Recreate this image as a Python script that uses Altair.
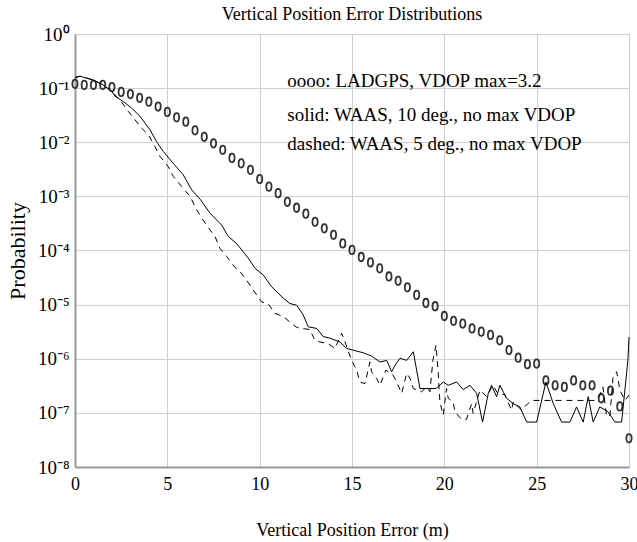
import altair as alt
import pandas as pd

FONT = "Liberation Serif"

# LADGPS (circles), x in metres, log10 of probability
ladgps_x = [0.0, 0.5, 1.0, 1.5, 2.0, 2.5, 3.0, 3.5, 4.0, 4.5,
            5.0, 5.5, 6.0, 6.5, 7.0, 7.5, 8.0, 8.5, 9.0, 9.5,
            10.0, 10.5, 11.0, 11.5, 12.0, 12.5, 13.0, 13.5, 14.0, 14.5,
            15.0, 15.5, 16.0, 16.5, 17.0, 17.5, 18.0, 18.5, 19.0, 19.5,
            20.0, 20.5, 21.0, 21.5, 22.0, 22.5, 23.0, 23.5, 24.0, 24.5,
            25.0, 25.5, 26.0, 26.5, 27.0, 27.5, 28.0, 28.5, 29.0, 29.5, 30.0]
ladgps_log10 = [-0.92, -0.94, -0.94, -0.94, -0.98, -1.07, -1.11, -1.18, -1.25, -1.34,
                -1.44, -1.54, -1.62, -1.78, -1.90, -2.02, -2.14, -2.29, -2.39, -2.51,
                -2.68, -2.82, -2.94, -3.10, -3.21, -3.32, -3.47, -3.59, -3.71, -3.87,
                -3.99, -4.12, -4.22, -4.33, -4.48, -4.56, -4.68, -4.82, -4.97, -5.03,
                -5.21, -5.30, -5.35, -5.44, -5.50, -5.56, -5.66, -5.84, -5.98, -6.10,
                -6.09, -6.40, -6.49, -6.52, -6.40, -6.49, -6.49, -6.73, -6.59, -6.88, -7.47]

# WAAS, 10 deg (solid)
waas10_x = [0.0, 0.27, 0.99, 1.52, 1.99, 2.17, 2.62, 3.07, 3.52, 4.06,
            4.42, 4.78, 5.32, 5.86, 6.32, 6.77, 7.31, 7.94, 8.30, 8.75,
            9.38, 9.75, 10.19, 10.65, 11.28, 11.64, 12.00, 12.36, 12.63, 13.09,
            13.44, 13.81, 14.35, 14.71, 15.16, 15.61, 16.06, 16.51, 16.88, 17.15,
            17.33, 17.60, 17.96, 18.32, 18.68, 19.13, 19.55, 19.94, 20.21, 20.67,
            21.02, 21.39, 21.75, 22.07, 22.38, 22.56, 22.83, 23.01, 23.37, 23.73,
            24.09, 24.46, 25.00, 25.50, 25.90, 26.35, 26.80, 27.16, 27.52, 27.79,
            28.06, 28.42, 28.87, 29.24, 29.60, 29.94, 30.00]
waas10_log10 = [-0.81, -0.78, -0.85, -0.94, -1.06, -1.15, -1.25, -1.37, -1.52, -1.77,
                -1.99, -2.17, -2.39, -2.60, -2.88, -3.05, -3.31, -3.53, -3.74, -3.87,
                -4.14, -4.33, -4.45, -4.67, -4.88, -4.98, -5.01, -5.19, -5.41, -5.44,
                -5.59, -5.62, -5.69, -5.81, -5.85, -5.89, -5.95, -6.06, -6.03, -6.24,
                -6.12, -5.99, -6.03, -5.87, -6.55, -6.55, -6.55, -6.43, -6.49, -6.43,
                -6.57, -6.49, -6.64, -7.17, -6.64, -6.49, -6.70, -6.49, -6.73, -6.83,
                -6.89, -7.17, -7.17, -6.43, -6.83, -7.17, -7.17, -6.89, -7.17, -6.70,
                -7.17, -6.89, -6.98, -7.17, -7.17, -6.03, -5.60]

# WAAS, 5 deg (dashed)
waas5_x = [0.0, 0.27, 0.99, 1.52, 1.99, 2.44, 2.89, 3.61, 3.97, 4.33,
           4.60, 5.05, 5.32, 5.78, 6.23, 6.59, 6.86, 7.31, 7.58, 7.85,
           8.21, 8.66, 8.93, 9.30, 9.65, 10.11, 10.47, 10.83, 11.28, 11.73,
           12.00, 12.27, 12.72, 12.99, 13.26, 13.71, 14.08, 14.44, 14.62, 14.98,
           15.25, 15.43, 15.70, 15.97, 16.06, 16.33, 16.51, 16.84, 17.22, 17.42,
           17.69, 17.96, 18.14, 18.32, 18.77, 19.04, 19.22, 19.38, 19.55, 19.67,
           19.76, 19.94, 20.12, 20.21, 20.48, 20.57, 20.93, 21.20, 21.48, 21.56,
           21.93, 22.29, 22.63, 22.85, 23.28, 23.64, 23.73, 24.00, 24.20, 24.42,
           24.73, 25.18, 26.26, 27.34, 28.15, 28.42, 28.59, 28.79, 28.97, 29.13,
           29.33, 29.51, 29.78, 30.00]
waas5_log10 = [-0.80, -0.78, -0.85, -0.94, -1.06, -1.22, -1.43, -1.74, -1.86, -2.08,
               -2.26, -2.45, -2.63, -2.82, -3.00, -3.25, -3.40, -3.62, -3.74, -3.96,
               -4.11, -4.31, -4.39, -4.55, -4.73, -4.95, -4.99, -5.16, -5.22, -5.35,
               -5.42, -5.44, -5.46, -5.66, -5.69, -5.72, -5.81, -5.53, -5.69, -6.03,
               -6.21, -6.43, -6.46, -6.06, -6.24, -6.36, -6.49, -6.21, -6.30, -6.43,
               -6.64, -6.27, -6.36, -6.55, -6.61, -6.52, -6.61, -6.03, -5.75, -6.27,
               -6.80, -7.04, -6.55, -6.73, -6.80, -6.98, -7.12, -7.12, -6.83, -7.01,
               -6.58, -6.70, -6.49, -6.62, -6.67, -6.95, -6.80, -6.89, -6.95, -6.86,
               -6.77, -6.77, -6.77, -6.77, -6.77, -6.67, -6.52, -7.07, -7.04, -6.36,
               -6.24, -6.58, -6.77, -6.67]

# In-plot legend text (anchored in data coordinates)
legend_lines = ["oooo: LADGPS, VDOP max=3.2",
                "solid: WAAS, 10 deg., no max VDOP",
                "dashed: WAAS, 5 deg., no max VDOP"]
legend_x = [11.5, 11.5, 11.5]
legend_log10 = [-0.975, -1.60, -2.14]

x_ticks = [0, 5, 10, 15, 20, 25, 30]
y_tick_exponents = [0, -1, -2, -3, -4, -5, -6, -7, -8]

df_lad = pd.DataFrame({"x": ladgps_x, "p": [10 ** v for v in ladgps_log10]})
df_s = pd.DataFrame({"x": waas10_x, "p": [10 ** v for v in waas10_log10],
                     "i": list(range(len(waas10_x)))})
df_d = pd.DataFrame({"x": waas5_x, "p": [10 ** v for v in waas5_log10],
                     "i": list(range(len(waas5_x)))})
df_t = pd.DataFrame({"x": legend_x, "p": [10 ** v for v in legend_log10],
                     "t": legend_lines})

x_scale = alt.Scale(domain=[0, 30], nice=False, zero=False)
y_scale = alt.Scale(type="log", domain=[1e-8, 1], nice=False)

x_axis = alt.Axis(values=x_ticks, title="Vertical Position Error (m)", grid=True,
                  gridColor="#cfcfcf", gridWidth=1, domainColor="#999999", domainWidth=2,
                  ticks=False, labelFont=FONT, labelFontSize=18, labelColor="black",
                  labelPadding=8, labelFlush=False, labelOverlap=False,
                  titleFont=FONT, titleFontSize=18, titleFontWeight="normal",
                  titleColor="black", titleY=68, titleBaseline="alphabetic")

sup = "['⁰','¹','²','³','⁴','⁵','⁶','⁷','⁸']"
y_axis = alt.Axis(values=[10.0 ** e for e in y_tick_exponents], title="Probability",
                  grid=True, gridColor="#cfcfcf", gridWidth=1, domainColor="#999999",
                  domainWidth=2, ticks=False, labelFont=FONT, labelFontSize=19,
                  labelColor="black", labelPadding=6, labelFlush=False, labelOverlap=False,
                  labelExpr="'10' + (round(log(datum.value)/LN10) == 0 ? '⁰' : '⁻' + "
                            + sup + "[-round(log(datum.value)/LN10)])",
                  titleFont=FONT, titleFontSize=22, titleFontWeight="normal",
                  titleColor="black", titleX=-58, titleBaseline="middle", titleAlign="center")

ellipse = "M -0.62 0 A 0.62 1 0 1 1 0.62 0 A 0.62 1 0 1 1 -0.62 0 Z"

points = alt.Chart(df_lad).mark_point(shape=ellipse, size=72, filled=False,
                                      color="#333333", strokeWidth=1.8, opacity=1).encode(
    x=alt.X("x:Q", scale=x_scale, axis=x_axis),
    y=alt.Y("p:Q", scale=y_scale, axis=y_axis),
)

solid = alt.Chart(df_s).mark_line(color="black", strokeWidth=1).encode(
    x=alt.X("x:Q", scale=x_scale),
    y=alt.Y("p:Q", scale=y_scale),
    order="i:Q",
)

dashed = alt.Chart(df_d).mark_line(color="black", strokeWidth=1, strokeDash=[6, 5]).encode(
    x=alt.X("x:Q", scale=x_scale),
    y=alt.Y("p:Q", scale=y_scale),
    order="i:Q",
)

texts = alt.Chart(df_t).mark_text(font=FONT, fontSize=19, align="left",
                                  baseline="alphabetic", color="black").encode(
    x=alt.X("x:Q", scale=x_scale),
    y=alt.Y("p:Q", scale=y_scale),
    text="t:N",
)

chart = alt.layer(points, solid, dashed, texts).properties(
    width=554, height=433,
    title=alt.TitleParams("Vertical Position Error Distributions", font=FONT, fontSize=18,
                          fontWeight="normal", anchor="middle", offset=5, dy=4, color="black"),
    autosize=alt.AutoSizeParams(type="none"),
    padding={"left": 75, "top": 34, "right": 8, "bottom": 75},
).configure_view(stroke="#777777", strokeWidth=1).configure(background="white")

chart.save("out.html", embed_options={"renderer": "svg", "actions": False})
